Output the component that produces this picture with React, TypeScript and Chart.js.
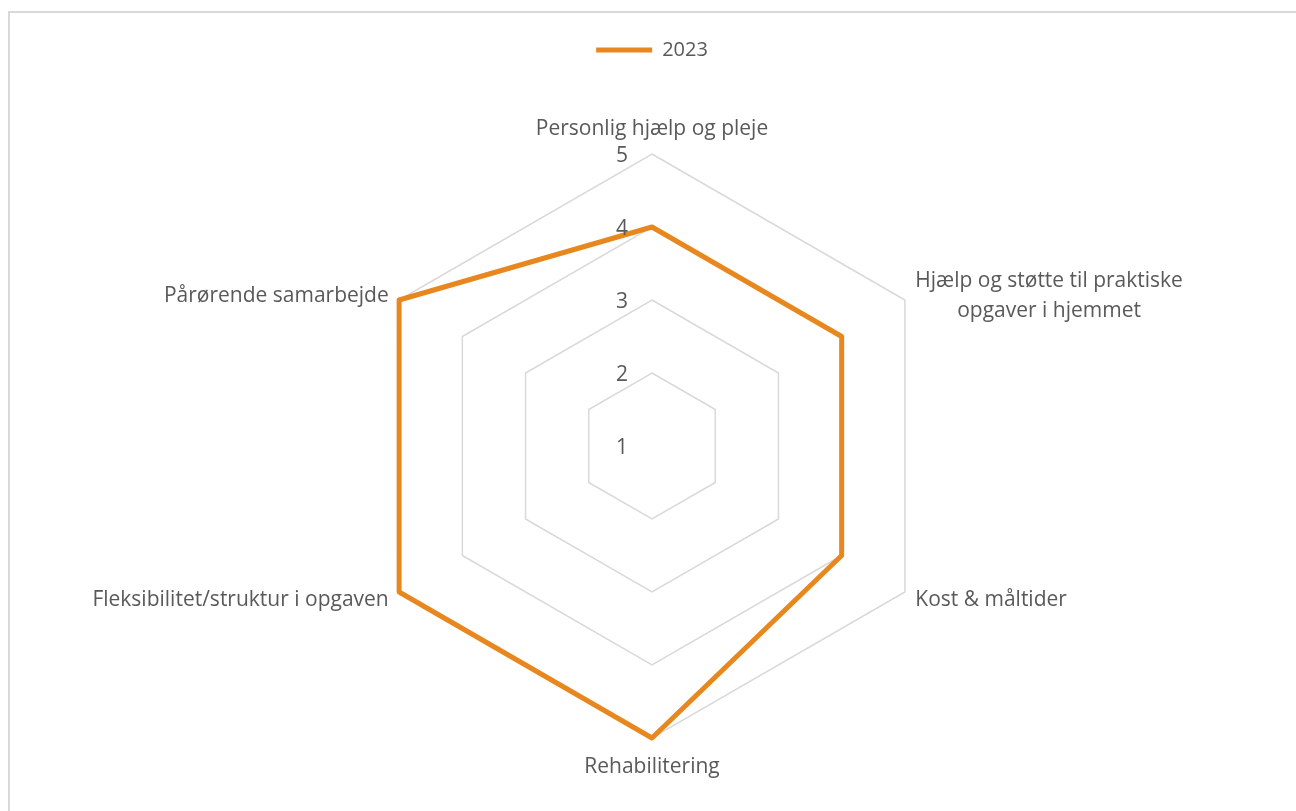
import React, { useEffect, useRef } from "react";
import { Chart, registerables } from "chart.js";

Chart.register(...registerables);

const categories: string[][] = [
  ["Personlig hjælp og pleje"],
  ["Hjælp og støtte til praktiske", "opgaver i hjemmet"],
  ["Kost & måltider"],
  ["Rehabilitering"],
  ["Fleksibilitet/struktur i opgaven"],
  ["Pårørende samarbejde"],
];
const seriesName = "2023";
const values2023 = [4, 4, 4, 5, 5, 5];
const tickValues = [1, 2, 3, 4, 5];

const FONT = "'Open Sans', sans-serif";
const TEXT = "#595959";
const ORANGE = "#E8871E";

const labelPlugin = {
  id: "customLabels",
  afterDatasetsDraw(chart: any) {
    const scale = chart.scales.r;
    const ctx = chart.ctx;
    ctx.save();
    ctx.font = `21px ${FONT}`;
    ctx.fillStyle = TEXT;
    // tick labels
    ctx.textAlign = "center";
    ctx.textBaseline = "middle";
    tickValues.forEach((v) => {
      const d = scale.getDistanceFromCenterForValue(v);
      ctx.fillText(String(v), scale.xCenter - 30, scale.yCenter - d + 2);
    });
    // point labels
    const R = scale.drawingArea;
    categories.forEach((lines, i) => {
      const ang = scale.getIndexAngle(i);
      const sin = Math.sin(ang);
      const vertical = Math.abs(sin) < 0.1;
      const dist = R + (vertical ? 27 : 12);
      const p = scale.getPointPosition(i, dist);
      const lh = 30;
      let align: CanvasTextAlign = "center";
      if (!vertical) align = sin > 0 ? "left" : "right";
      const widths = lines.map((l: string) => ctx.measureText(l).width);
      const blockW = Math.max(...widths);
      const y0 = p.y + 2 - ((lines.length - 1) * lh) / 2;
      lines.forEach((l: string, k: number) => {
        let cx: number;
        if (align === "center") cx = p.x;
        else if (align === "left") cx = p.x + blockW / 2;
        else cx = p.x - blockW / 2;
        ctx.textAlign = "center";
        ctx.fillText(l, cx, y0 + k * lh);
      });
    });
    ctx.restore();
  },
};

export default function App() {
  const ref = useRef<HTMLCanvasElement | null>(null);
  useEffect(() => {
    if (!ref.current) return;
    const chart = new Chart(ref.current, {
      type: "radar",
      data: {
        labels: categories.map((c) => c.join(" ")),
        datasets: [
          {
            label: seriesName,
            data: values2023,
            borderColor: ORANGE,
            backgroundColor: ORANGE,
            borderWidth: 5,
            borderJoinStyle: "round",
            fill: false,
            pointRadius: 0,
            pointHoverRadius: 0,
            tension: 0,
          },
        ],
      },
      plugins: [labelPlugin],
      options: {
        responsive: false,
        animation: false,
        layout: { padding: { top: 17, bottom: 10, left: 350, right: 346 } },
        plugins: {
          tooltip: { enabled: false },
          legend: {
            display: true,
            position: "top",
            labels: {
              usePointStyle: true,
              pointStyle: "line",
              pointStyleWidth: 56,
              color: TEXT,
              padding: 10,
              font: { family: FONT, size: 20 },
            },
          },
        },
        scales: {
          r: {
            min: 1,
            max: 5,
            ticks: { display: false, stepSize: 1 },
            pointLabels: { display: false },
            angleLines: { display: false },
            grid: { color: "#d9d9d9", lineWidth: 1.5 },
          },
        },
      },
    });
    return () => chart.destroy();
  }, []);
  return (
    <div
      style={{
        position: "fixed",
        left: 8,
        top: 11,
        right: -20,
        bottom: -20,
        overflow: "hidden",
        borderTop: "2px solid #d9d9d9",
        borderLeft: "2px solid #d9d9d9",
        background: "#fff",
      }}
    >
      <canvas ref={ref} width={1280} height={820} style={{ display: "block", width: 1280, height: 820 }} />
    </div>
  );
}
